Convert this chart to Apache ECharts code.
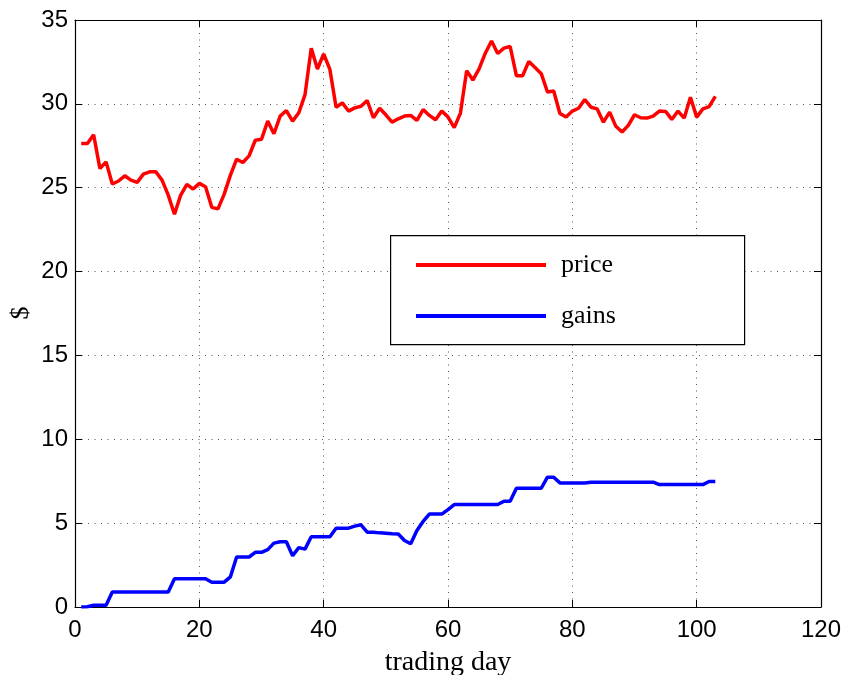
<!DOCTYPE html>
<html>
<head>
<meta charset="utf-8">
<script src="https://cdn.jsdelivr.net/npm/echarts@6/dist/echarts.min.js"></script>
<style>
html,body{margin:0;padding:0;background:#fff;}
#c{width:846px;height:675px;}
</style>
</head>
<body>
<div id="c"></div>
<script>
const xTicks = [0, 20, 40, 60, 80, 100, 120];
const yTicks = [0, 5, 10, 15, 20, 25, 30, 35];
const seriesNames = ['price', 'gains'];
const yAxisTitle = '$';
const xAxisTitle = 'trading day';
const price = [
27.63,27.63,28.16,26.15,26.54,25.22,25.4,25.71,25.45,25.32,
25.81,25.95,25.95,25.45,24.56,23.42,24.56,25.2,24.92,25.26,
25.06,23.83,23.74,24.62,25.75,26.7,26.5,26.9,27.83,27.89,
28.97,28.22,29.27,29.6,28.97,29.47,30.55,33.32,32.08,32.98,
32.05,29.8,30.06,29.57,29.76,29.86,30.2,29.17,29.74,29.35,
28.91,29.11,29.27,29.31,29.01,29.66,29.31,29.05,29.57,29.21,
28.58,29.45,31.98,31.42,32.08,33.02,33.75,33.0,33.32,33.42,
31.68,31.68,32.53,32.17,31.8,30.71,30.77,29.43,29.21,29.57,
29.74,30.26,29.8,29.7,28.91,29.51,28.66,28.32,28.72,29.35,
29.17,29.15,29.27,29.57,29.55,29.07,29.57,29.15,30.4,29.21,
29.7,29.84,30.45
];
const gains = [
0,0.02,0.1,0.1,0.1,0.89,0.89,0.89,0.89,0.89,
0.89,0.89,0.89,0.89,0.89,1.68,1.68,1.68,1.68,1.68,
1.68,1.48,1.48,1.48,1.8,2.98,2.98,2.98,3.26,3.26,
3.42,3.81,3.89,3.89,3.06,3.54,3.45,4.19,4.19,4.19,
4.19,4.7,4.7,4.7,4.82,4.9,4.46,4.46,4.42,4.4,
4.37,4.35,3.97,3.77,4.56,5.1,5.54,5.54,5.54,5.81,
6.11,6.11,6.11,6.11,6.11,6.11,6.11,6.11,6.31,6.31,
7.08,7.08,7.08,7.08,7.08,7.74,7.74,7.4,7.4,7.4,
7.4,7.4,7.44,7.44,7.44,7.44,7.44,7.44,7.44,7.44,
7.44,7.44,7.44,7.3,7.3,7.3,7.3,7.3,7.3,7.3,
7.3,7.48,7.48
];
const days = price.map((_, i) => i + 1);

const chart = echarts.init(document.getElementById('c'), null, {renderer: 'canvas'});
const gridLine = {show: true, lineStyle: {color: '#555', width: 1, type: [1, 5.5]}};
const tickStyle = {show: true, inside: true, length: 7, lineStyle: {color: '#000', width: 1}};
const lineAx = {show: true, onZero: false, lineStyle: {color: '#000', width: 1.2}};
const sans = 'Liberation Sans, Arial, sans-serif';
const serif = 'Liberation Serif, Times New Roman, serif';

chart.setOption({
  animation: false,
  backgroundColor: '#fff',
  grid: {left: 75, right: 25, top: 20, bottom: 68, containLabel: false, outerBoundsMode: 'none'},
  xAxis: [
    {type: 'value', min: xTicks[0], max: xTicks[xTicks.length - 1], interval: 20,
     name: xAxisTitle, nameLocation: 'middle', nameGap: 42,
     nameTextStyle: {fontFamily: serif, fontSize: 28, color: '#000'},
     axisLine: lineAx, axisTick: tickStyle, splitLine: gridLine,
     axisLabel: {fontFamily: sans, fontSize: 24, color: '#000', margin: 11}},
    {type: 'value', position: 'top', min: xTicks[0], max: xTicks[xTicks.length - 1], interval: 20,
     axisLine: lineAx, axisTick: tickStyle, splitLine: {show: false}, axisLabel: {show: false}}
  ],
  yAxis: [
    {type: 'value', min: yTicks[0], max: yTicks[yTicks.length - 1], interval: 5,
     axisLine: lineAx, axisTick: tickStyle, splitLine: gridLine,
     axisLabel: {fontFamily: sans, fontSize: 24, color: '#000', margin: 7}},
    {type: 'value', position: 'right', min: yTicks[0], max: yTicks[yTicks.length - 1], interval: 5,
     axisLine: lineAx, axisTick: tickStyle, splitLine: {show: false}, axisLabel: {show: false}}
  ],
  graphic: [
    {type: 'rect', z: 3, left: 390, top: 235,
     shape: {width: 354, height: 109},
     style: {fill: '#fff', stroke: '#000', lineWidth: 1.2}},
    {type: 'text', x: 21, y: 313, rotation: Math.PI / 2, z: 5,
     style: {text: yAxisTitle, fill: '#000', font: '26px ' + serif, textAlign: 'center', textVerticalAlign: 'middle', verticalAlign: 'middle'}}
  ],
  legend: {
    orient: 'vertical', left: 416, top: 252, padding: 0, itemGap: 25,
    itemWidth: 130, itemHeight: 4, z: 5, icon: 'rect',
    textStyle: {fontFamily: serif, fontSize: 26, color: '#000', padding: [0, 0, 0, 10]},
    data: seriesNames
  },
  series: [
    {name: seriesNames[0], type: 'line', symbol: 'none', showSymbol: false, xAxisIndex: 0, yAxisIndex: 0,
     data: days.map((d, i) => [d, price[i]]),
     lineStyle: {color: '#ff0000', width: 3.5}, itemStyle: {color: '#ff0000'}},
    {name: seriesNames[1], type: 'line', symbol: 'none', showSymbol: false, xAxisIndex: 0, yAxisIndex: 0,
     data: days.map((d, i) => [d, gains[i]]),
     lineStyle: {color: '#0000ff', width: 3.5}, itemStyle: {color: '#0000ff'}}
  ]
});
</script>
</body>
</html>
